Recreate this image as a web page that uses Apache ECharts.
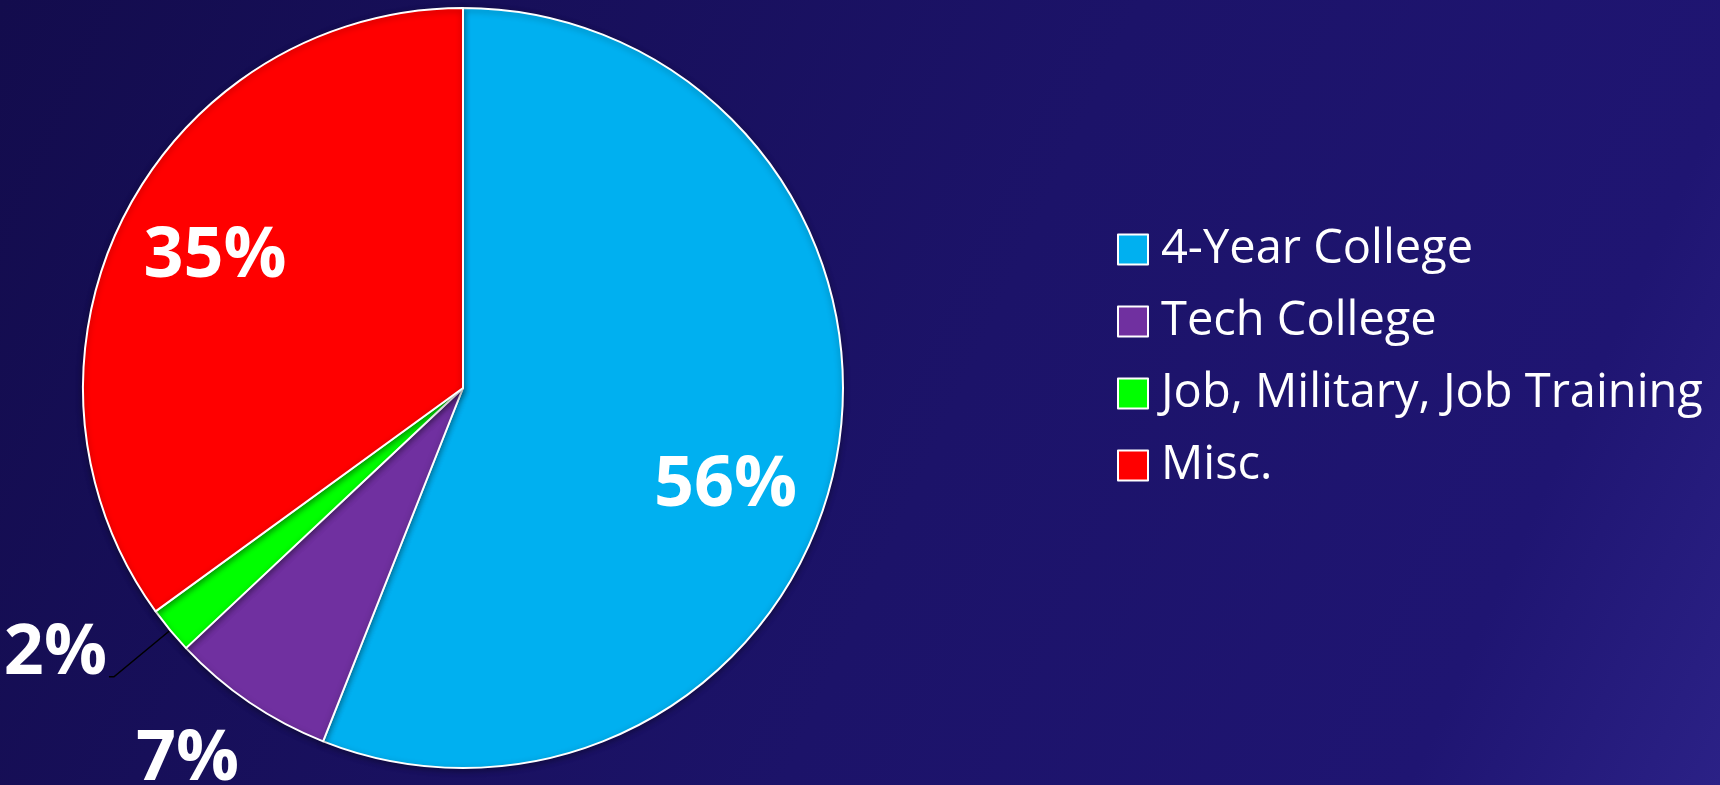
<!DOCTYPE html>
<html>
<head>
<meta charset="utf-8">
<script src="https://cdn.jsdelivr.net/npm/echarts@6/dist/echarts.min.js"></script>
<style>
html,body{margin:0;padding:0;background:#150e52;}
#chart{width:1720px;height:785px;}
</style>
</head>
<body>
<div id="chart"></div>
<script>
const categories = ['4-Year College', 'Tech College', 'Job, Military, Job Training', 'Misc.'];
const values = [56, 7, 2, 35];
const sliceColors = ['#00b0f0', '#7030a0', '#00ff00', '#ff0000'];
// label nudges (dx, dy) relative to the library's default label anchor
const labelNudges = [[73, 62], [-167, 212], null, [-76, -43]];

const chart = echarts.init(document.getElementById('chart'), null, {renderer: 'canvas'});

const data = categories.map((name, i) => {
  const item = {name: name, value: values[i], itemStyle: {color: sliceColors[i]}};
  if (i === 2) {
    item.label = {position: 'outside', formatter: '{c}%\n ', lineHeight: 46, distanceToLabelLine: 2};
    item.labelLine = {show: true, length: 73, length2: 5, lineStyle: {color: '#000', width: 1.5}};
  }
  return item;
});

chart.setOption({
  backgroundColor: {
    type: 'linear', x: 0, y: 0, x2: 1, y2: 1,
    colorStops: [
      {offset: 0, color: '#130c4d'},
      {offset: 0.55, color: '#1c1369'},
      {offset: 0.85, color: '#1f1572'},
      {offset: 1, color: '#2b2186'}
    ]
  },
  legend: {
    orient: 'vertical',
    left: 1112,
    top: 221,
    itemWidth: 30,
    itemHeight: 30,
    itemGap: 25,
    icon: 'rect',
    itemStyle: {borderColor: '#ffffff', borderWidth: 2},
    textStyle: {
      color: '#ffffff',
      fontFamily: 'Open Sans',
      fontSize: 47,
      lineHeight: 47,
      padding: [0, 0, 0, 8]
    },
    data: categories
  },
  series: [{
    type: 'pie',
    center: [463, 388],
    radius: [0, 380],
    startAngle: 90,
    clockwise: true,
    avoidLabelOverlap: false,
    itemStyle: {
      borderColor: '#ffffff',
      borderWidth: 2,
      shadowColor: 'rgba(0,0,0,0.35)',
      shadowBlur: 6,
      shadowOffsetY: 2
    },
    emphasis: {disabled: true},
    label: {
      show: true,
      position: 'inside',
      formatter: '{c}%',
      color: '#ffffff',
      fontFamily: 'Open Sans',
      fontWeight: 'bold',
      fontSize: 70
    },
    labelLine: {show: false},
    labelLayout: function (params) {
      const n = labelNudges[params.dataIndex];
      if (!n) return {};
      return {dx: n[0], dy: n[1]};
    },
    data: data
  }]
});
</script>
</body>
</html>
